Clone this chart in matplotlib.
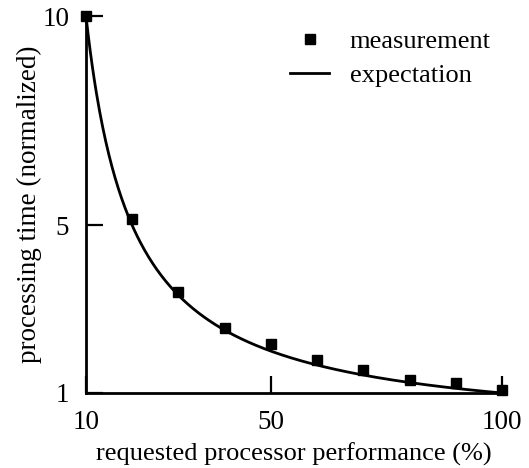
import matplotlib
matplotlib.use("Agg")
import matplotlib.pyplot as plt
import numpy as np
from matplotlib.lines import Line2D

# data
perf = [10, 20, 30, 40, 50, 60, 70, 80, 90, 100]
measured = [10.0, 5.15, 3.42, 2.55, 2.17, 1.79, 1.55, 1.31, 1.23, 1.07]
x_ticks = [10, 50, 100]
y_ticks = [1, 5, 10]

plt.rcParams['font.family'] = ['Liberation Serif', 'DejaVu Serif']

fig = plt.figure(figsize=(5.29, 4.68), dpi=100)
ax = fig.add_axes([86/529, 1 - 393/468, (502-86)/529, (393-16)/468])

xs = np.linspace(10, 100, 400)
ax.plot(xs, 100.0 / xs, color='black', lw=2.0, clip_on=False)
ax.plot(perf, measured, 's', color='black', ms=7.5, clip_on=False, zorder=5)

ax.set_xlim(10, 100)
ax.set_ylim(1, 10)
ax.set_xticks(x_ticks)
ax.set_yticks(y_ticks)
ax.set_xticklabels([str(t) for t in x_ticks])
ax.set_yticklabels([str(t) for t in y_ticks])
ax.tick_params(direction='in', length=12, width=1.6, labelsize=19.5)
ax.tick_params(axis='x', pad=12)
ax.tick_params(axis='y', pad=12)
for s in ['top', 'right']:
    ax.spines[s].set_visible(False)
for s in ['left', 'bottom']:
    ax.spines[s].set_linewidth(2.0)

ax.set_xlabel('requested processor performance (%)', fontsize=19, labelpad=6)
ax.set_ylabel('processing time (normalized)', fontsize=19.5, labelpad=0)

handles = [Line2D([], [], marker='s', color='black', ls='none', ms=7.5),
           Line2D([], [], color='black', lw=2.0)]
ax.legend(handles, ['measurement', 'expectation'], frameon=False, fontsize=19,
          loc='upper left', bbox_to_anchor=(0.433, 1.027), handlelength=1.5,
          handletextpad=0.76, labelspacing=0.4)

fig.savefig('out.png', dpi=100)
